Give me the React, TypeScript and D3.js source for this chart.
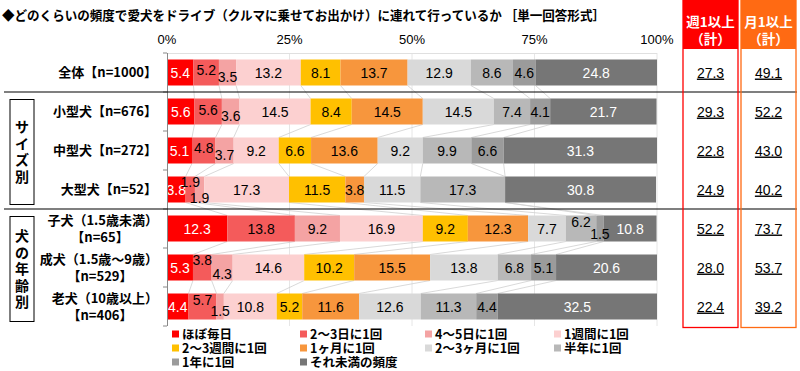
import React from "react";
import * as d3 from "d3";

const title = "◆どのくらいの頻度で愛犬をドライブ（クルマに乗せてお出かけ）に連れて行っているか ［単一回答形式］";

const seriesNames = [
  "ほぼ毎日", "2～3日に1回", "4～5日に1回", "1週間に1回",
  "2～3週間に1回", "1ヶ月に1回", "2～3ヶ月に1回", "半年に1回",
  "1年に1回", "それ未満の頻度",
];
const seriesColors = [
  "#ff0000", "#f45b5b", "#f4a3a3", "#fcd0d0",
  "#ffc000", "#f7963d", "#d9d9d9", "#b8b8b8",
  "#9b9b9b", "#767676",
];
const whiteLabel = [true, false, false, false, false, false, false, false, false, true];

const categoryLines: string[][] = [
  ["全体【n=1000】"],
  ["小型犬【n=676】"],
  ["中型犬【n=272】"],
  ["大型犬【n=52】"],
  ["子犬（1.5歳未満）", "【n=65】"],
  ["成犬（1.5歳～9歳）", "【n=529】"],
  ["老犬（10歳以上）", "【n=406】"],
];

const rowValues: number[][] = [
  [5.4, 5.2, 3.5, 13.2, 8.1, 13.7, 12.9, 8.6, 4.6, 24.8],
  [5.6, 5.6, 3.6, 14.5, 8.4, 14.5, 14.5, 7.4, 4.1, 21.7],
  [5.1, 4.8, 3.7, 9.2, 6.6, 13.6, 9.2, 9.9, 6.6, 31.3],
  [3.8, 1.9, 1.9, 17.3, 11.5, 3.8, 11.5, 17.3, 0, 30.8],
  [12.3, 13.8, 9.2, 16.9, 9.2, 12.3, 7.7, 6.2, 1.5, 10.8],
  [5.3, 3.8, 4.3, 14.6, 10.2, 15.5, 13.8, 6.8, 5.1, 20.6],
  [4.4, 5.7, 1.5, 10.8, 5.2, 11.6, 12.6, 11.3, 4.4, 32.5],
];

const weeklyTotal = ["27.3", "29.3", "22.8", "24.9", "52.2", "28.0", "22.4"];
const monthlyTotal = ["49.1", "52.2", "43.0", "40.2", "73.7", "53.7", "39.2"];

// staggered small labels: [first index (raised), second index (lowered)]
const staggerIdx = [[1, 2], [1, 2], [1, 2], [1, 2], [7, 8], [1, 2], [1, 2]];
const staggerDy = [[-3, 4], [-2, 4], [-3, 4], [-8, 8], [-7, 5], [-8, 6], [-7, 4]];

const xTicks = [0, 25, 50, 75, 100];

const groups = [
  { chars: ["サ", "イ", "ズ", "別"], rows: [1, 3] },
  { chars: ["犬", "の", "年", "齢", "別"], rows: [4, 6] },
];

const W = 800, H = 371;
const JP = "'Noto Sans CJK JP', 'Noto Sans', sans-serif";
const NUM = "'Liberation Sans', Arial, 'Noto Sans CJK JP', sans-serif";

export default function App() {
  const x = d3.scaleLinear().domain([0, 100]).range([167, 657]);
  const y = d3.scaleBand<number>().domain(d3.range(rowValues.length)).range([53, 326]).paddingInner(1 / 3).paddingOuter(1 / 6);
  const bw = y.bandwidth();
  const step = y.step();

  const stacks = rowValues.map((vals) => {
    const cum = d3.cumsum(vals);
    return vals.map((v, i) => ({ v, x0: i === 0 ? 0 : cum[i - 1], x1: cum[i] }));
  });

  const boundaryY = (i: number) => (y(i)! + bw + y(i + 1)!) / 2;

  return (
    <svg width={W} height={H} style={{ position: "absolute", left: 0, top: 0, background: "#fff" }}>
      <rect x={0} y={0} width={W} height={H} fill="#fff" />
      {/* title */}
      <text x={2} y={20} fontFamily={JP} fontWeight={700} fontSize={13} textLength={603} lengthAdjust="spacingAndGlyphs">{title}</text>

      {/* axis labels */}
      {xTicks.map((t) => (
        <text key={t} x={x(t)} y={44} textAnchor="middle" fontFamily={NUM} fontSize={13}>{t}%</text>
      ))}

      {/* gridlines */}
      {xTicks.slice(1).map((t) => (
        <line key={t} x1={x(t)} x2={x(t)} y1={53} y2={326} stroke="#e6e6e6" strokeWidth={1} />
      ))}
      <line x1={x(0)} x2={x(100)} y1={53.5} y2={53.5} stroke="#e0e0e0" />

      {/* connector lines */}
      {stacks.slice(0, -1).map((segs, i) =>
        segs.slice(0, -1).map((s, k) => (
          <line key={`c${i}-${k}`} x1={x(s.x1)} y1={y(i)! + bw} x2={x(stacks[i + 1][k].x1)} y2={y(i + 1)!} stroke="#cfcfcf" strokeWidth={0.8} />
        ))
      )}

      {/* bars */}
      {stacks.map((segs, i) =>
        segs.map((s, k) => s.v > 0 ? (
          <rect key={`b${i}-${k}`} x={x(s.x0)} y={y(i)!} width={x(s.x1) - x(s.x0)} height={bw} fill={seriesColors[k]} />
        ) : null)
      )}

      {/* bar labels */}
      {stacks.map((segs, i) =>
        segs.map((s, k) => {
          if (s.v <= 0) return null;
          let dy = 0;
          const si = staggerIdx[i].indexOf(k);
          if (si >= 0) dy = staggerDy[i][si];
          return (
            <text key={`l${i}-${k}`} x={(x(s.x0) + x(s.x1)) / 2} y={y(i)! + bw / 2 + dy} dy="0.36em" textAnchor="middle"
              fontFamily={NUM} fontSize={14} fill={whiteLabel[k] ? "#fff" : "#000"}>
              {s.v.toFixed(1)}
            </text>
          );
        })
      )}

      {/* left axis */}
      <line x1={167.5} x2={167.5} y1={53} y2={326} stroke="#888" strokeWidth={1} />
      {d3.range(rowValues.length + 1).map((i) => (
        <line key={`t${i}`} x1={163} x2={167} y1={53 + i * step} y2={53 + i * step} stroke="#888" />
      ))}

      {/* category labels */}
      {categoryLines.map((lines, i) => {
        const cy = y(i)! + bw / 2;
        if (lines.length === 1) {
          return <text key={`cat${i}`} x={157} y={cy} dy="0.36em" textAnchor="end" fontFamily={JP} fontWeight={700} fontSize={13}>{lines[0]}</text>;
        }
        return (
          <g key={`cat${i}`}>
            <text x={158} y={cy - 8} dy="0.36em" textAnchor="end" fontFamily={JP} fontWeight={700} fontSize={13}>{lines[0]}</text>
            <text x={100} y={cy + 9} dy="0.36em" textAnchor="middle" fontFamily={JP} fontWeight={700} fontSize={13}>{lines[1]}</text>
          </g>
        );
      })}

      {/* separators */}
      <line x1={4} x2={797} y1={boundaryY(0)} y2={boundaryY(0)} stroke="#000" strokeWidth={1.2} />
      <line x1={4} x2={797} y1={boundaryY(3)} y2={boundaryY(3)} stroke="#000" strokeWidth={1.2} />

      {/* group boxes */}
      {groups.map((g, gi) => {
        const top = y(g.rows[0])! + 1;
        const bottom = y(g.rows[1])! + bw + 2;
        const mid = (top + bottom) / 2;
        const sp = 16.5;
        const start = mid - ((g.chars.length - 1) * sp) / 2;
        return (
          <g key={`g${gi}`}>
            <rect x={10} y={top} width={24} height={bottom - top} fill="#fff" stroke="#000" strokeWidth={1} />
            {g.chars.map((c, ci) => (
              <text key={ci} x={22} y={start + ci * sp} dy="0.36em" textAnchor="middle" fontFamily={JP} fontWeight={700} fontSize={14}>{c}</text>
            ))}
          </g>
        );
      })}

      {/* total columns */}
      {[
        { label: "週1以上", x0: 683, x1: 738, color: "#ff0000", vals: weeklyTotal },
        { label: "月1以上", x0: 741, x1: 796, color: "#ff6a13", vals: monthlyTotal },
      ].map((c, ci) => {
        const cx = (c.x0 + c.x1) / 2;
        return (
          <g key={`tot${ci}`}>
            <rect x={c.x0} y={0.5} width={c.x1 - c.x0} height={327} fill="none" stroke={c.color} strokeWidth={1.3} />
            <rect x={c.x0} y={0} width={c.x1 - c.x0} height={49} fill={c.color} />
            <text x={cx} y={22} dy="0.36em" textAnchor="middle" fill="#fff" fontFamily={JP} fontWeight={700} fontSize={13.5}>{c.label}</text>
            <text x={cx} y={39} dy="0.36em" textAnchor="middle" fill="#fff" fontFamily={JP} fontWeight={700} fontSize={13.5}>（計）</text>
            {c.vals.map((v, i) => (
              <text key={i} x={cx} y={y(i)! + bw / 2} dy="0.36em" textAnchor="middle" fontFamily={NUM} fontSize={14} textDecoration="underline">{v}</text>
            ))}
          </g>
        );
      })}

      {/* legend */}
      {seriesNames.map((n, i) => {
        const col = i % 4, row = Math.floor(i / 4);
        const lx = [175, 303, 428, 557][col];
        const ly = 334.5 + row * 14;
        return (
          <g key={`lg${i}`}>
            <rect x={lx - 3} y={ly - 4} width={7} height={7} fill={seriesColors[i]} />
            <text x={lx + 7} y={ly} dy="0.36em" fontFamily={JP} fontWeight={700} fontSize={12.5}>{n}</text>
          </g>
        );
      })}
    </svg>
  );
}
